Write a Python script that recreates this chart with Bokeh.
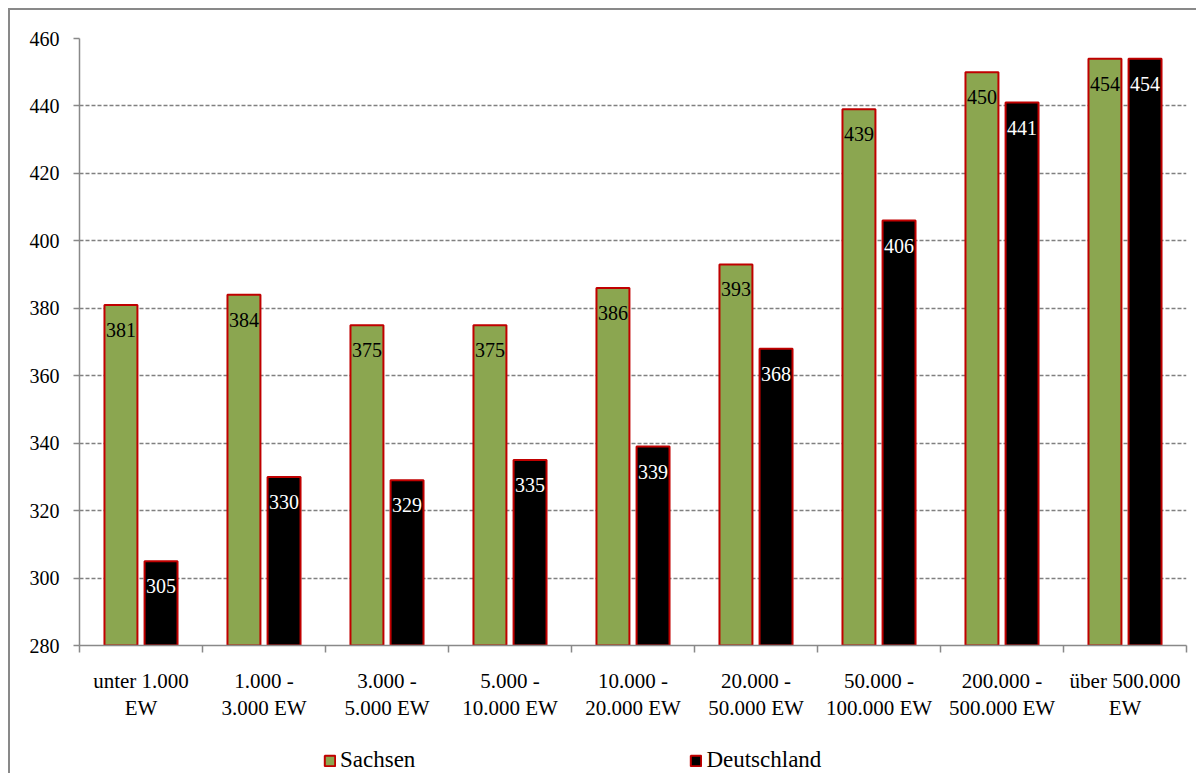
from bokeh.plotting import figure
from bokeh.layouts import column
from bokeh.models import ColumnDataSource, FixedTicker, Legend, LegendItem, LinearAxis, Range1d
from bokeh.core.properties import value
from bokeh.embed import file_html
from bokeh.resources import INLINE

categories = ["unter 1.000\nEW", "1.000 -\n3.000 EW", "3.000 -\n5.000 EW", "5.000 -\n10.000 EW",
              "10.000 -\n20.000 EW", "20.000 -\n50.000 EW", "50.000 -\n100.000 EW",
              "200.000 -\n500.000 EW", "über 500.000\nEW"]
sachsen = [381, 384, 375, 375, 386, 393, 439, 450, 454]
deutschland = [305, 330, 329, 335, 339, 368, 406, 441, 454]
y_ticks = [280, 300, 320, 340, 360, 380, 400, 420, 440, 460]
series_names = ["Sachsen", "Deutschland"]

FONT = "Liberation Serif"
GREEN = "#8BA650"
RED = "#C00000"
GRAY = "#898989"

n = len(categories)
centers = [i + 0.5 for i in range(n)]
off = 0.163
bw = 0.268

src_s = ColumnDataSource(dict(x=[c - off for c in centers], top=sachsen, lab=[str(v) for v in sachsen]))
src_d = ColumnDataSource(dict(x=[c + off for c in centers], top=deutschland, lab=[str(v) for v in deutschland]))

p = figure(width=1186, height=713, output_backend="svg", toolbar_location=None,
           x_range=Range1d(0, n), y_range=Range1d(280, 460),
           min_border_left=69, min_border_right=10, min_border_top=28, min_border_bottom=78,
           x_axis_location=None, y_axis_location=None)
p.outline_line_color = None
p.background_fill_color = "white"
p.border_fill_color = "white"

# y axis
yax = LinearAxis(ticker=FixedTicker(ticks=y_ticks, minor_ticks=[]))
yax.axis_line_color = GRAY
yax.axis_line_width = 1.5
yax.major_tick_line_color = GRAY
yax.major_tick_line_width = 1.5
yax.major_tick_out = 6
yax.major_tick_in = 0
yax.minor_tick_line_color = None
yax.major_label_text_font = FONT
yax.major_label_text_font_size = "20px"
yax.major_label_text_color = "black"
yax.major_label_standoff = 14
p.add_layout(yax, "left")

# x axis: labels at group centers, ticks at group boundaries
xax = LinearAxis(ticker=FixedTicker(ticks=centers, minor_ticks=list(range(n + 1))))
xax.major_label_overrides = {c: lab for c, lab in zip(centers, categories)}
xax.axis_line_color = GRAY
xax.axis_line_width = 1.5
xax.major_tick_line_color = None
xax.major_tick_out = 0
xax.major_tick_in = 0
xax.minor_tick_line_color = GRAY
xax.minor_tick_line_width = 1.5
xax.minor_tick_out = 7
xax.minor_tick_in = 0
xax.major_label_text_font = FONT
xax.major_label_text_font_size = "21px"
xax.major_label_text_color = "black"
xax.major_label_standoff = 16
xax.major_label_text_line_height = 1.15
p.add_layout(xax, "below")

p.xgrid.visible = False
p.ygrid.ticker = FixedTicker(ticks=y_ticks[1:])
p.ygrid.grid_line_color = "#808080"
p.ygrid.grid_line_dash = "4 2"
p.ygrid.grid_line_width = 1.5

p.vbar(x="x", top="top", bottom=280, width=bw, source=src_s,
       fill_color=GREEN, line_color=RED, line_width=2)
p.vbar(x="x", top="top", bottom=280, width=bw, source=src_d,
       fill_color="black", line_color=RED, line_width=2)

p.text(x="x", y="top", text="lab", source=src_s, text_align="center", text_baseline="top",
       y_offset=18, text_font=value(FONT), text_font_size="20px", text_color="black")
p.text(x="x", y="top", text="lab", source=src_d, text_align="center", text_baseline="top",
       y_offset=18, text_font=value(FONT), text_font_size="20px", text_color="white")

# legend strip (frame is aligned with the main plot's frame by the column layout)
p2 = figure(width=1186, height=50, output_backend="svg", toolbar_location=None,
            x_range=Range1d(0, 1), y_range=Range1d(0, 1), min_border=0,
            x_axis_location=None, y_axis_location=None)
p2.outline_line_color = None
p2.xgrid.visible = False
p2.ygrid.visible = False
p2.background_fill_color = "white"
p2.border_fill_color = "white"
hidden = dict(x=[float("nan")], top=[float("nan")])
g1 = p2.vbar(x="x", top="top", bottom=0, width=0.1, source=ColumnDataSource(hidden),
             fill_color=GREEN, line_color=RED, line_width=2)
g2 = p2.vbar(x="x", top="top", bottom=0, width=0.1, source=ColumnDataSource(hidden),
             fill_color="black", line_color=RED, line_width=2)

legend = Legend(items=[LegendItem(label=series_names[0], renderers=[g1]),
                       LegendItem(label=series_names[1], renderers=[g2])],
                orientation="horizontal", location=(244, 0))
legend.label_text_font = FONT
legend.label_text_font_size = "23px"
legend.label_text_color = "black"
legend.glyph_width = 13
legend.glyph_height = 13
legend.label_standoff = 4
legend.spacing = 274
legend.padding = 0
legend.margin = 0
legend.border_line_color = None
legend.background_fill_alpha = 0
legend.label_height = 14
p2.add_layout(legend, "center")

lay = column(p, p2, spacing=0)
lay.styles = {"border-left": f"2px solid {GRAY}", "border-top": f"2px solid {GRAY}",
              "margin-left": "8px", "margin-top": "8px"}

open("out.html", "w").write(file_html(lay, INLINE))
